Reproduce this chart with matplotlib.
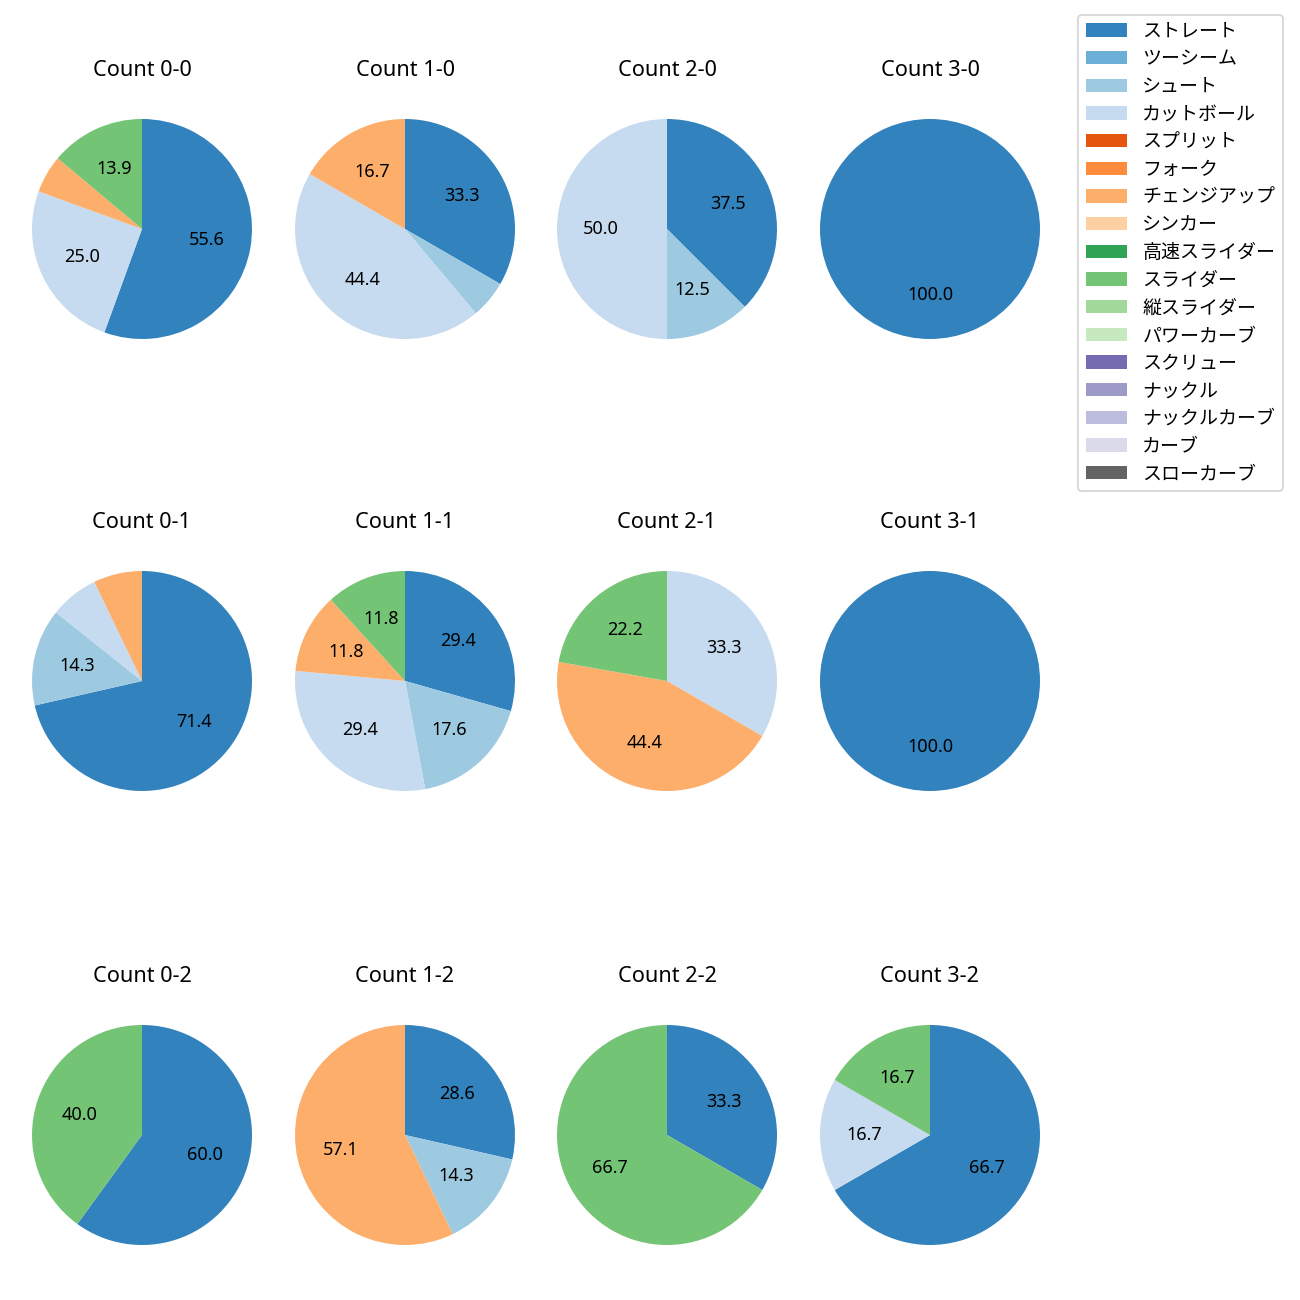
import matplotlib
matplotlib.use("Agg")
import matplotlib.pyplot as plt
from matplotlib.patches import Patch

plt.rcParams['font.family'] = ['Noto Sans', 'Noto Sans CJK JP', 'DejaVu Sans']

pitch_types = ["ストレート", "ツーシーム", "シュート", "カットボール", "スプリット", "フォーク",
               "チェンジアップ", "シンカー", "高速スライダー", "スライダー", "縦スライダー",
               "パワーカーブ", "スクリュー", "ナックル", "ナックルカーブ", "カーブ", "スローカーブ"]
colors = ["#3182bd", "#6baed6", "#9ecae1", "#c6dbef", "#e6550d", "#fd8d3c", "#fdae6b",
          "#fdd0a2", "#31a354", "#74c476", "#a1d99b", "#c7e9c0", "#756bb1", "#9e9ac8",
          "#bcbddc", "#dadaeb", "#636363"]

# pitch counts per count situation (same order as pitch_types)
count_0_0 = [20, 0, 0, 9, 0, 0, 2, 0, 0, 5, 0, 0, 0, 0, 0, 0, 0]
count_1_0 = [6, 0, 1, 8, 0, 0, 3, 0, 0, 0, 0, 0, 0, 0, 0, 0, 0]
count_2_0 = [3, 0, 1, 4, 0, 0, 0, 0, 0, 0, 0, 0, 0, 0, 0, 0, 0]
count_3_0 = [1, 0, 0, 0, 0, 0, 0, 0, 0, 0, 0, 0, 0, 0, 0, 0, 0]
count_0_1 = [10, 0, 2, 1, 0, 0, 1, 0, 0, 0, 0, 0, 0, 0, 0, 0, 0]
count_1_1 = [5, 0, 3, 5, 0, 0, 2, 0, 0, 2, 0, 0, 0, 0, 0, 0, 0]
count_2_1 = [0, 0, 0, 3, 0, 0, 4, 0, 0, 2, 0, 0, 0, 0, 0, 0, 0]
count_3_1 = [1, 0, 0, 0, 0, 0, 0, 0, 0, 0, 0, 0, 0, 0, 0, 0, 0]
count_0_2 = [3, 0, 0, 0, 0, 0, 0, 0, 0, 2, 0, 0, 0, 0, 0, 0, 0]
count_1_2 = [2, 0, 1, 0, 0, 0, 4, 0, 0, 0, 0, 0, 0, 0, 0, 0, 0]
count_2_2 = [1, 0, 0, 0, 0, 0, 0, 0, 0, 2, 0, 0, 0, 0, 0, 0, 0]
count_3_2 = [4, 0, 0, 1, 0, 0, 0, 0, 0, 1, 0, 0, 0, 0, 0, 0, 0]

grid = [
    [("Count 0-0", count_0_0), ("Count 1-0", count_1_0), ("Count 2-0", count_2_0), ("Count 3-0", count_3_0)],
    [("Count 0-1", count_0_1), ("Count 1-1", count_1_1), ("Count 2-1", count_2_1), ("Count 3-1", count_3_1)],
    [("Count 0-2", count_0_2), ("Count 1-2", count_1_2), ("Count 2-2", count_2_2), ("Count 3-2", count_3_2)],
]

W = H = 1300
fig = plt.figure(figsize=(10, 10), dpi=130)

col_cx = [142, 405, 667, 930]
row_cy = [229, 681, 1135]
R = 110.0
hw, hh = 131.0, 142.0

for r, row in enumerate(grid):
    for c, (title, vals) in enumerate(row):
        cx, cy = col_cx[c], row_cy[r]
        ax = fig.add_axes([(cx - hw) / W, 1 - (cy + hh) / H, 2 * hw / W, 2 * hh / H])
        idx = [i for i, v in enumerate(vals) if v > 0]
        v = [vals[i] for i in idx]
        cl = [colors[i] for i in idx]
        ax.pie(v, colors=cl, startangle=90, counterclock=False,
               autopct=lambda p: f"{p:.1f}" if p >= 10 else "",
               pctdistance=0.6, textprops={'fontsize': 10})
        ax.set_xlim(-hw / R, hw / R)
        ax.set_ylim(-hh / R, hh / R)
        ax.set_aspect('auto')
        ax.set_title(title, fontsize=12)

handles = [Patch(facecolor=col) for col in colors]
fig.legend(handles, pitch_types, loc='upper right',
           bbox_to_anchor=(1292.5 / W, 1 - 5.5 / H), fontsize=10.5,
           handlelength=2.2, labelspacing=0.51)

fig.savefig("out.png", dpi=130)
